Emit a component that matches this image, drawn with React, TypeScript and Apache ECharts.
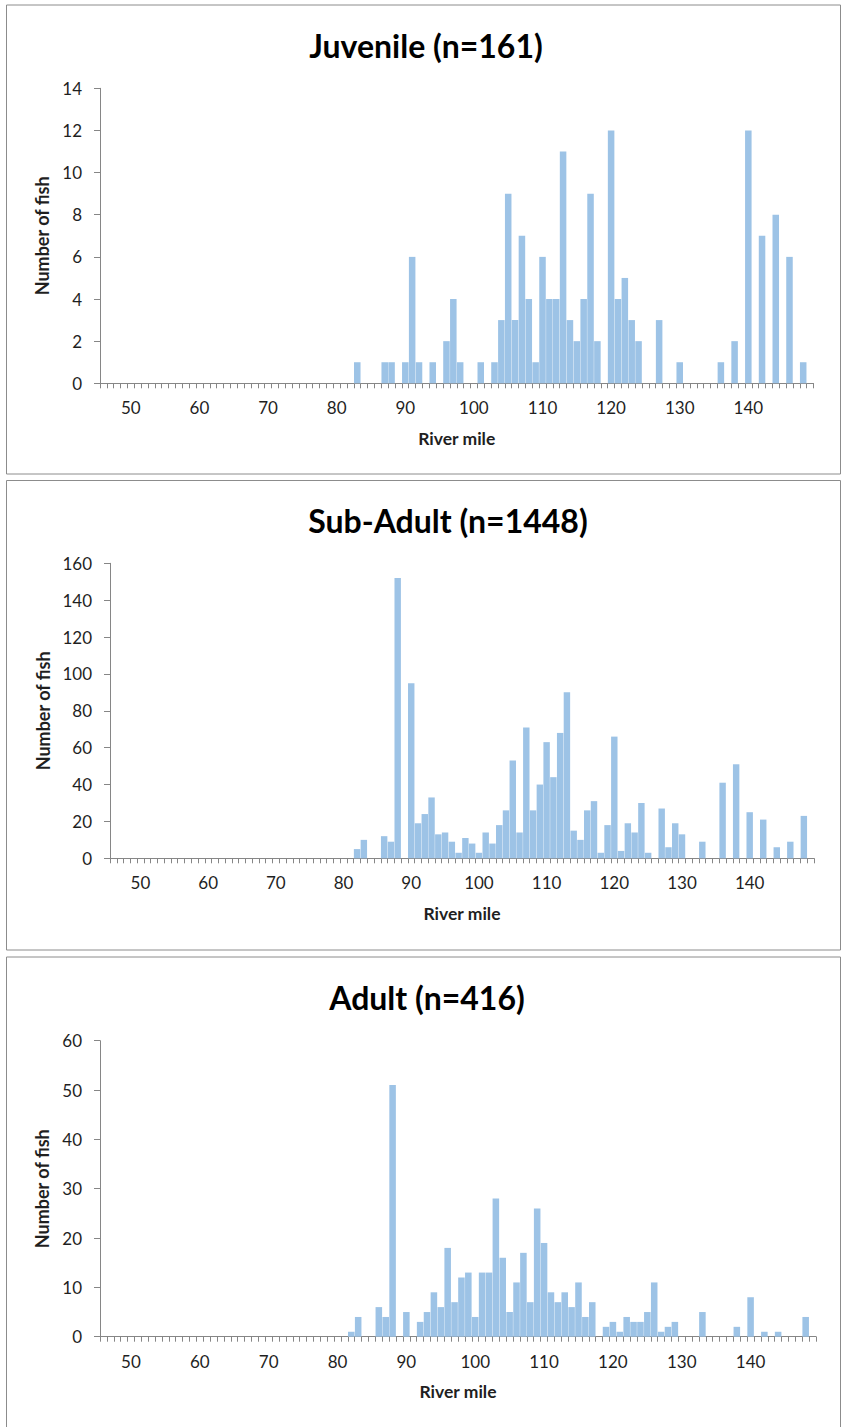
import React, { useEffect, useRef } from "react";
import * as echarts from "echarts";

// River-mile categories (one bar per mile)
const MILES: string[] = [];
for (let m = 46; m <= 149; m++) MILES.push(String(m));

const TITLES = ["Juvenile (n=161)", "Sub-Adult (n=1448)", "Adult (n=416)"];
const Y_MAX = [14, 160, 60];
const Y_INTERVAL = [2, 20, 10];

const juvenileMiles = [83, 87, 88, 90, 91, 92, 94, 96, 97, 98, 101, 103, 104, 105, 106, 107, 108, 109, 110, 111, 112, 113, 114, 115, 116, 117, 118, 120, 121, 122, 123, 124, 127, 130, 136, 138, 140, 142, 144, 146, 148];
const juvenileCounts = [1, 1, 1, 1, 6, 1, 1, 2, 4, 1, 1, 1, 3, 9, 3, 7, 4, 1, 6, 4, 4, 11, 3, 2, 4, 9, 2, 12, 4, 5, 3, 2, 3, 1, 1, 2, 12, 7, 8, 6, 1];

const subAdultMiles = [82, 83, 86, 87, 88, 90, 91, 92, 93, 94, 95, 96, 97, 98, 99, 100, 101, 102, 103, 104, 105, 106, 107, 108, 109, 110, 111, 112, 113, 114, 115, 116, 117, 118, 119, 120, 121, 122, 123, 124, 125, 127, 128, 129, 130, 133, 136, 138, 140, 142, 144, 146, 148];
const subAdultCounts = [5, 10, 12, 9, 152, 95, 19, 24, 33, 13, 14, 9, 3, 11, 8, 3, 14, 8, 18, 26, 53, 14, 71, 26, 40, 63, 44, 68, 90, 15, 10, 26, 31, 3, 18, 66, 4, 19, 14, 30, 3, 27, 6, 19, 13, 9, 41, 51, 25, 21, 6, 9, 23];

const adultMiles = [82, 83, 86, 87, 88, 90, 92, 93, 94, 95, 96, 97, 98, 99, 100, 101, 102, 103, 104, 105, 106, 107, 108, 109, 110, 111, 112, 113, 114, 115, 116, 117, 119, 120, 121, 122, 123, 124, 125, 126, 127, 128, 129, 133, 138, 140, 142, 144, 148];
const adultCounts = [1, 4, 6, 4, 51, 5, 3, 5, 9, 6, 18, 7, 12, 13, 4, 13, 13, 28, 16, 5, 11, 17, 7, 26, 19, 9, 7, 9, 6, 11, 4, 7, 2, 3, 1, 4, 3, 3, 5, 11, 1, 2, 3, 5, 2, 8, 1, 1, 4];

function toSeries(miles: number[], counts: number[]): number[] {
  const lookup: Record<string, number> = {};
  miles.forEach((m, i) => (lookup[String(m)] = counts[i]));
  return MILES.map((m) => lookup[m] ?? 0);
}

const SERIES_DATA = [
  toSeries(juvenileMiles, juvenileCounts),
  toSeries(subAdultMiles, subAdultCounts),
  toSeries(adultMiles, adultCounts),
];

// layout (pixels)
const PANELS = [
  { top: 5, bottom: 474, gridLeft: 100, gridRight: 813.5, gridTop: 88.3, gridBottom: 383.3, titleX: 426 },
  { top: 480.5, bottom: 950, gridLeft: 110, gridRight: 814, gridTop: 563.3, gridBottom: 858.3, titleX: 448 },
  { top: 957, bottom: 1440, gridLeft: 100, gridRight: 816, gridTop: 1040.7, gridBottom: 1336.7, titleX: 427 },
];

const FONT = "Lato, 'Open Sans', sans-serif";
const W = 841;
const H = 1427;

export default function App() {
  const ref = useRef<HTMLDivElement>(null);
  useEffect(() => {
    document.body.style.margin = "0";
    if (!ref.current) return;
    const chart = echarts.init(ref.current, undefined, { renderer: "svg" });
    const axisColor = "#868686";
    const textColor = "#1f1f1f";
    const option: any = {
      animation: false,
      backgroundColor: "#ffffff",
      grid: PANELS.map((p) => ({
        left: p.gridLeft,
        top: p.gridTop,
        width: p.gridRight - p.gridLeft,
        height: p.gridBottom - p.gridTop,
        containLabel: false,
      })),
      xAxis: PANELS.map((p, i) => ({
        type: "category",
        gridIndex: i,
        data: MILES,
        boundaryGap: true,
        axisLine: { show: true, lineStyle: { color: axisColor, width: 1 } },
        axisTick: { show: true, interval: 0, length: 5, alignWithLabel: false, lineStyle: { color: axisColor } },
        axisLabel: {
          interval: (_idx: number, v: string) => Number(v) % 10 === 0,
          fontFamily: FONT,
          fontSize: 17,
          color: textColor,
          margin: 16,
        },
        splitLine: { show: false },
        name: "River mile",
        nameLocation: "middle",
        nameGap: 46,
        nameTextStyle: { fontFamily: FONT, fontSize: 17.5, fontWeight: "bold", color: textColor },
      })),
      yAxis: PANELS.map((p, i) => ({
        type: "value",
        gridIndex: i,
        min: 0,
        max: Y_MAX[i],
        interval: Y_INTERVAL[i],
        axisLine: { show: true, lineStyle: { color: axisColor, width: 1 } },
        axisTick: { show: true, length: 6, lineStyle: { color: axisColor } },
        axisLabel: { fontFamily: FONT, fontSize: 17, color: textColor, margin: 18 },
        splitLine: { show: false },
        name: "Number of fish",
        nameLocation: "middle",
        nameGap: p.gridLeft - 45 - 9,
        nameTextStyle: { fontFamily: FONT, fontSize: 18, fontWeight: "bold", color: textColor },
      })),
      series: SERIES_DATA.map((d, i) => ({
        type: "bar",
        xAxisIndex: i,
        yAxisIndex: i,
        data: d,
        barCategoryGap: "5%",
        itemStyle: { color: "#9DC3E6" },
        silent: true,
      })),
      graphic: [
        ...PANELS.map((p) => ({
          type: "rect",
          shape: { x: 6.5, y: p.top, width: 834, height: p.bottom - p.top },
          style: { fill: "none", stroke: "#8c8c8c", lineWidth: 1 },
          silent: true,
        })),
        ...PANELS.map((p, i) => ({
          type: "text",
          x: p.titleX,
          y: p.top + 40,
          style: {
            text: TITLES[i],
            font: `bold 32px ${FONT}`,
            fill: "#000000",
            align: "center",
            verticalAlign: "middle",
          },
          silent: true,
        })),
      ],
    };
    chart.setOption(option);
    return () => chart.dispose();
  }, []);
  return <div ref={ref} style={{ width: W, height: H }} />;
}
